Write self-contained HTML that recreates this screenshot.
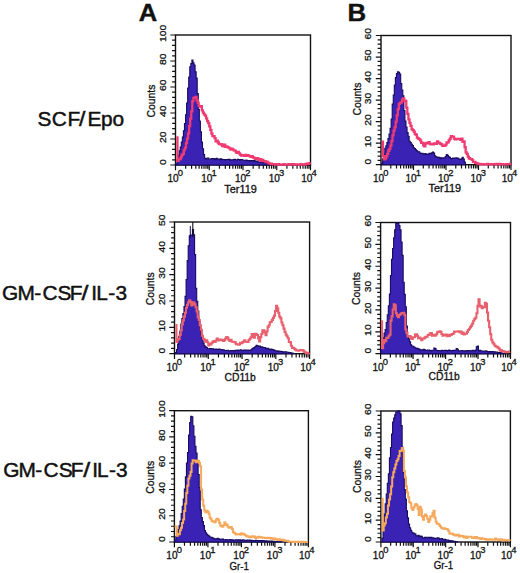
<!DOCTYPE html>
<html><head><meta charset="utf-8"><title>Figure</title><style>
html,body{margin:0;padding:0;background:#fff;width:520px;height:573px;overflow:hidden}
svg{display:block}
text{font-family:"Liberation Sans", sans-serif;fill:#111}
.yl,.cnt,.xl,.xt{stroke:#111;stroke-width:0.3px}
.yl{font-size:10.4px;text-anchor:middle}
.cnt{font-size:10.4px;text-anchor:middle}
.xl{font-size:10px;text-anchor:middle}
.sup{font-size:9.4px}
.xt{font-size:10px;text-anchor:middle}
.big{font-size:24.6px;font-weight:bold;stroke:#111;stroke-width:0.4px}
.row{font-size:19.5px;stroke:#111;stroke-width:0.45px}
</style></head><body>
<svg width="520" height="573" viewBox="0 0 520 573">
<rect width="520" height="573" fill="#fff"/>
<text transform="matrix(1.04 0 0 1 138.8 20.7)" class="big">A</text>
<text transform="matrix(1.05 0 0 1 347.4 20.7)" class="big">B</text>
<text transform="matrix(1.07 0 0 1 0 126.1)" x="35 48.36 62.98 73.83 81.86 94.35 105.26" class="row">SCF<tspan style="fill:none;stroke:none">/</tspan>Epo</text>
<text transform="matrix(1.18 0 0 1 79 126.1)" class="row" aria-hidden="true">/</text>
<text transform="matrix(1.07 0 0 1 0 299.9)" x="1.92 16.34 32.12 39.66 53.79 65.13 76.26 85.21 89.9 101.19 107.86" class="row">GM-CSF<tspan style="fill:none;stroke:none">/</tspan>IL-3</text>
<text transform="matrix(1.28 0 0 1 81.6 299.9)" class="row" aria-hidden="true">/</text>
<text transform="matrix(1.07 0 0 1 0 477.4)" x="3.04 17.28 33.06 40.6 54.91 66.25 77.76 86.24 90.74 101.94 108.51" class="row">GM-CSF<tspan style="fill:none;stroke:none">/</tspan>IL-3</text>
<text transform="matrix(1.28 0 0 1 83.2 477.4)" class="row" aria-hidden="true">/</text>
<g>
<rect x="175.5" y="35" width="135" height="130" fill="none" stroke="#111" stroke-width="1.4"/>
<path d="M170.3 165H175.5 M172.1 159.8H175.5 M172.1 154.6H175.5 M172.1 149.4H175.5 M172.1 144.2H175.5 M170.3 139H175.5 M172.1 133.8H175.5 M172.1 128.6H175.5 M172.1 123.4H175.5 M172.1 118.2H175.5 M170.3 113H175.5 M172.1 107.8H175.5 M172.1 102.6H175.5 M172.1 97.4H175.5 M172.1 92.2H175.5 M170.3 87H175.5 M172.1 81.8H175.5 M172.1 76.6H175.5 M172.1 71.4H175.5 M172.1 66.2H175.5 M170.3 61H175.5 M172.1 55.8H175.5 M172.1 50.6H175.5 M172.1 45.4H175.5 M172.1 40.2H175.5 M170.3 35H175.5 M175.5 165V170.2 M185.66 165V168.8 M191.6 165V168.8 M195.82 165V168.8 M199.09 165V168.8 M201.76 165V168.8 M204.02 165V168.8 M205.98 165V168.8 M207.71 165V168.8 M209.25 165V170.2 M219.41 165V168.8 M225.35 165V168.8 M229.57 165V168.8 M232.84 165V168.8 M235.51 165V168.8 M237.77 165V168.8 M239.73 165V168.8 M241.46 165V168.8 M243 165V170.2 M253.16 165V168.8 M259.1 165V168.8 M263.32 165V168.8 M266.59 165V168.8 M269.26 165V168.8 M271.52 165V168.8 M273.48 165V168.8 M275.21 165V168.8 M276.75 165V170.2 M286.91 165V168.8 M292.85 165V168.8 M297.07 165V168.8 M300.34 165V168.8 M303.01 165V168.8 M305.27 165V168.8 M307.23 165V168.8 M308.96 165V168.8 M310.5 165V170.2" stroke="#111" stroke-width="1.2" fill="none"/>
<text transform="translate(165.7 162) rotate(-90) scale(1 0.9)" class="yl">0</text>
<text transform="translate(165.7 137.3) rotate(-90) scale(1 0.9)" class="yl">20</text>
<text transform="translate(165.7 111.3) rotate(-90) scale(1 0.9)" class="yl">40</text>
<text transform="translate(165.7 85.3) rotate(-90) scale(1 0.9)" class="yl">60</text>
<text transform="translate(165.7 59.3) rotate(-90) scale(1 0.9)" class="yl">80</text>
<text transform="translate(165.7 33.3) rotate(-90) scale(1 0.9)" class="yl">100</text>
<text transform="translate(155.2 101) rotate(-90)" class="cnt">Counts</text>
<text x="175.2" y="182.4" class="xl">10<tspan class="sup" dx="-0.8" dy="-6.1">0</tspan></text>
<text x="208.95" y="182.4" class="xl">10<tspan class="sup" dx="-0.8" dy="-6.1">1</tspan></text>
<text x="242.7" y="182.4" class="xl">10<tspan class="sup" dx="-0.8" dy="-6.1">2</tspan></text>
<text x="276.45" y="182.4" class="xl">10<tspan class="sup" dx="-0.8" dy="-6.1">3</tspan></text>
<text x="308.9" y="182.4" class="xl">10<tspan class="sup" dx="-0.8" dy="-6.1">4</tspan></text>
<text transform="matrix(1.09 0 0 1 240.55 192.6)" class="xt">Ter119</text>
<path d="M176 165V163.77H177.06V160.09H178.12V155.41H179.18V150.72H180.24V147.03H181.3V142.12H182.36V137.1H183.42V130.8H184.48V123.43H185.54V114.7H186.6V103.04H187.66V88.09H188.72V77.17H189.78V66.7H190.84V63.53H191.9V60.06H192.96V62.92H194.02V65.08H195.08V71.85H196.14V78.15H197.2V93.62H198.26V109.42H199.32V120.98H200.38V131.78H201.44V141.97H202.5V148.68H203.56V154.53H204.62V158.35H205.68V158.97H206.74V158.2H207.8V158.13H208.86V159.19H209.92V159.25H210.98V158.66H212.04V158.54H213.1V158.45H214.16V159.61H215.22V158.85H216.28V158.31H217.34V159.19H218.4V159.08H219.46V159.74H220.52V158.86H221.58V159.33H222.64V159.45H223.7V159.43H224.76V159.97H225.82V159.46H226.88V159.47H227.94V159.2H229V159.41H230.06V160.29H231.12V159.91H232.18V160.2H233.24V159.45H234.3V159.31H235.36V159.74H236.42V159.9H237.48V159.38H238.54V159.52H239.6V160.21H240.66V159.43H241.72V159.45H242.78V160.3H243.84V160.32H244.9V160.49H245.96V160.02H247.02V161.02H248.08V160.5H249.14V161.02H250.2V160.52H251.26V161.27H252.32V160.57H253.38V160.6H254.44V160.88H255.5V161.44H256.56V161.05H257.62V161.81H258.68V162.13H259.74V162.29H260.8V162.49H261.86V162.54H262.92V162.58H263.98V162.81H265.04V162.91H266.1V163.4H267.16V163.72H268.22V163.96H269.28V164.79H270V165Z" fill="#3a22b4" stroke="#170c5e" stroke-width="1.1" stroke-linejoin="miter"/>
<path d="M176.4 137.33H177.46V160.93H178.52V159.46H179.58V159.14H180.64V157.28H181.7V154.99H182.76V153.96H183.82V150.07H184.88V147.84H185.94V143.05H187V138.54H188.06V133.47H189.12V126.14H190.18V118.55H191.24V111.36H192.3V101.26H193.36V97.83H194.42V97.56H195.48V96.89H196.54V100.11H197.6V102.68H198.66V105.78H199.72V106.52H200.78V106.21H201.84V110.4H202.9V112.59H203.96V114.42H205.02V115.59H206.08V118.35H207.14V121.21H208.2V123.16H209.26V126.34H210.32V129.93H211.38V133.58H212.44V136.2H213.5V136.05H214.56V138.2H215.62V141.47H216.68V140.68H217.74V142.51H218.8V143.84H219.86V144.31H220.92V144.03H221.98V145.96H223.04V146.24H224.1V144.76H225.16V146.95H226.22V146.43H227.28V147.08H228.34V147.66H229.4V148.35H230.46V149.55H231.52V148.75H232.58V149.56H233.64V150.34H234.7V150.6H235.76V152.43H236.82V152.86H237.88V151.83H238.94V153.36H240V154.66H241.06V155.54H242.12V155.5H243.18V155.24H244.24V155.93H245.3V155.01H246.36V155.82H247.42V155.27H248.48V155.9H249.54V156.19H250.6V156.78H251.66V156.07H252.72V157.32H253.78V157.78H254.84V158.93H255.9V158.89H256.96V158.2H258.02V159.02H259.08V160.03H260.14V159.24H261.2V160.9H262.26V159.87H263.32V161.11H264.38V161.19H265.44V162.01H266.5V161.72H267.56V162.65H268.62V163.35H269.68V163.59H270.74V163.77H271.8V164.11H272.86V164.04H273.92V164.13H274.98V164.61H276.04V164.15H277.1V164.67H278.16V164.26H279.22V164.55H280.28V164.54H281.34V164.66H282.4V164.56H283.46V164.11H284.52V164.55H285.58V164.67H286.64V164.57H287.7V164.41H288.76V164.14H289.82V164.12H290.88V164.25H291.94V164.53H293V164.2H294.06V164.44H295.12V164.55H296.18V164.44H297.24V164.53H298.3V164.57H299.36V164.53H300.42V164.11H301.48V164.49H302.54V164.44H303.6V164.59H304.66V164.23H305.72V163.97H306.78V163.73H307.84V163.86H308.9V163.11H309.96V163.04H310.5" fill="none" stroke="#ef3a72" stroke-width="2.3" stroke-linejoin="miter"/>
</g>
<g>
<rect x="381" y="35.5" width="130" height="129.2" fill="none" stroke="#111" stroke-width="1.4"/>
<path d="M375.8 164.7H381 M377.6 160.39H381 M377.6 156.09H381 M377.6 151.78H381 M377.6 147.47H381 M375.8 143.17H381 M377.6 138.86H381 M377.6 134.55H381 M377.6 130.25H381 M377.6 125.94H381 M375.8 121.63H381 M377.6 117.33H381 M377.6 113.02H381 M377.6 108.71H381 M377.6 104.41H381 M375.8 100.1H381 M377.6 95.79H381 M377.6 91.49H381 M377.6 87.18H381 M377.6 82.87H381 M375.8 78.57H381 M377.6 74.26H381 M377.6 69.95H381 M377.6 65.65H381 M377.6 61.34H381 M375.8 57.03H381 M377.6 52.73H381 M377.6 48.42H381 M377.6 44.11H381 M377.6 39.81H381 M375.8 35.5H381 M381 164.7V169.9 M390.78 164.7V168.5 M396.51 164.7V168.5 M400.57 164.7V168.5 M403.72 164.7V168.5 M406.29 164.7V168.5 M408.47 164.7V168.5 M410.35 164.7V168.5 M412.01 164.7V168.5 M413.5 164.7V169.9 M423.28 164.7V168.5 M429.01 164.7V168.5 M433.07 164.7V168.5 M436.22 164.7V168.5 M438.79 164.7V168.5 M440.97 164.7V168.5 M442.85 164.7V168.5 M444.51 164.7V168.5 M446 164.7V169.9 M455.78 164.7V168.5 M461.51 164.7V168.5 M465.57 164.7V168.5 M468.72 164.7V168.5 M471.29 164.7V168.5 M473.47 164.7V168.5 M475.35 164.7V168.5 M477.01 164.7V168.5 M478.5 164.7V169.9 M488.28 164.7V168.5 M494.01 164.7V168.5 M498.07 164.7V168.5 M501.22 164.7V168.5 M503.79 164.7V168.5 M505.97 164.7V168.5 M507.85 164.7V168.5 M509.51 164.7V168.5 M511 164.7V169.9" stroke="#111" stroke-width="1.2" fill="none"/>
<text transform="translate(371.2 161.7) rotate(-90) scale(1 0.9)" class="yl">0</text>
<text transform="translate(371.2 141.47) rotate(-90) scale(1 0.9)" class="yl">10</text>
<text transform="translate(371.2 119.93) rotate(-90) scale(1 0.9)" class="yl">20</text>
<text transform="translate(371.2 98.4) rotate(-90) scale(1 0.9)" class="yl">30</text>
<text transform="translate(371.2 76.87) rotate(-90) scale(1 0.9)" class="yl">40</text>
<text transform="translate(371.2 55.33) rotate(-90) scale(1 0.9)" class="yl">50</text>
<text transform="translate(371.2 33.8) rotate(-90) scale(1 0.9)" class="yl">60</text>
<text transform="translate(360.7 99.1) rotate(-90)" class="cnt">Counts</text>
<text x="380.7" y="182.1" class="xl">10<tspan class="sup" dx="-0.8" dy="-6.1">0</tspan></text>
<text x="413.2" y="182.1" class="xl">10<tspan class="sup" dx="-0.8" dy="-6.1">1</tspan></text>
<text x="445.7" y="182.1" class="xl">10<tspan class="sup" dx="-0.8" dy="-6.1">2</tspan></text>
<text x="478.2" y="182.1" class="xl">10<tspan class="sup" dx="-0.8" dy="-6.1">3</tspan></text>
<text x="509.4" y="182.1" class="xl">10<tspan class="sup" dx="-0.8" dy="-6.1">4</tspan></text>
<text transform="matrix(1.09 0 0 1 444.75 191.6)" class="xt">Ter119</text>
<path d="M381.6 164.7V163.4H382.66V158.74H383.72V154.08H384.78V148.3H385.84V145.8H386.9V142.44H387.96V138.51H389.02V133.96H390.08V128.29H391.14V118.96H392.2V104.16H393.26V95.08H394.32V85.06H395.38V77.57H396.44V73.44H397.5V71.87H398.56V72.25H399.62V74.14H400.68V83.49H401.74V90.01H402.8V95.71H403.86V110.51H404.92V120.98H405.98V127.17H407.04V132.64H408.1V136.21H409.16V141.19H410.22V142.52H411.28V144.38H412.34V145.64H413.4V147.76H414.46V148.49H415.52V149.87H416.58V150.77H417.64V151.69H418.7V151.8H419.76V153H420.82V153.42H421.88V153.18H422.94V153.88H424V154.27H425.06V153.53H426.12V154.48H427.18V154.24H428.24V153.81H429.3V153.35H430.36V153.79H431.42V152.88H432.48V151.95H433.54V153.1H434.6V155.85H435.66V156.87H436.72V156.95H437.78V157.44H438.84V157.39H439.9V158.65H440.96V157.78H442.02V158.24H443.08V157.77H444.14V158.04H445.2V156.48H446.26V154.65H447.32V155.41H448.38V156.85H449.44V157.33H450.5V158.46H451.56V158.8H452.62V157.94H453.68V157.97H454.74V158.24H455.8V157.77H456.86V157.93H457.92V158.27H458.98V159.18H460.04V159.47H461.1V158.74H462.16V157.31H463.22V159.14H464.28V162.06H465.34V164.01H465.7V164.7Z" fill="#3a22b4" stroke="#170c5e" stroke-width="1.1" stroke-linejoin="miter"/>
<path d="M381.9 141.73H382.96V156.13H384.02V159.32H385.08V158.67H386.14V156.24H387.2V153.95H388.26V150.74H389.32V148.8H390.38V145.54H391.44V141.16H392.5V135.47H393.56V130.57H394.62V127.12H395.68V121.56H396.74V115.23H397.8V109.22H398.86V103.91H399.92V102.88H400.98V102.24H402.04V99.47H403.1V98.48H404.16V100.58H405.22V100.97H406.28V107.64H407.34V113.96H408.4V119.42H409.46V122.93H410.52V125.87H411.58V129.26H412.64V130.07H413.7V131.56H414.76V134.13H415.82V134.56H416.88V137.66H417.94V138.52H419V139.12H420.06V140.37H421.12V142.77H422.18V142.92H423.24V145.37H424.3V146.37H425.36V143.48H426.42V142.92H427.48V143.13H428.54V142.14H429.6V143.83H430.66V144.23H431.72V144.33H432.78V144.4H433.84V143.5H434.9V143.92H435.96V143.77H437.02V141.47H438.08V142.71H439.14V142.9H440.2V143.89H441.26V144.36H442.32V145.85H443.38V145.88H444.44V145.63H445.5V144.55H446.56V142.49H447.62V142.32H448.68V140.45H449.74V138.6H450.8V136.25H451.86V136.58H452.92V136.58H453.98V138.6H455.04V139.27H456.1V138.96H457.16V138.81H458.22V139.14H459.28V138.89H460.34V139.8H461.4V138.75H462.46V141.85H463.52V141.52H464.58V147.24H465.64V152.29H466.7V153.83H467.76V156.71H468.82V158.25H469.88V158.86H470.94V159.12H472V159.91H473.06V161.97H474.12V161.91H475.18V162.75H476.24V163.08H477.3V163.66H478.36V163.79H479.42V163.93H480.48V164.29H481.54V164.3H482.6V164.26H483.66V164.38H484.72V164.45H485.78V164.39H486.84V163.97H487.9V164.21H488.96V164.29H490.02V164.41H491.08V164.22H492.14V164.17H493.2V164.09H494.26V164.05H495.32V164.38H496.38V163.94H497.44V164.33H498.5V164.45H499.56V163.96H500.62V164.03H501.68V164.08H502.74V164.37H503.8V164.37H504.86V164.42H505.92V164.26H506.98V164.21H508.04V164.19H509.1V164.21H510.16V163.56H511" fill="none" stroke="#ef3a72" stroke-width="2.3" stroke-linejoin="miter"/>
</g>
<g>
<rect x="174.5" y="222" width="135.1" height="131.7" fill="none" stroke="#111" stroke-width="1.4"/>
<path d="M169.3 353.7H174.5 M171.1 348.43H174.5 M171.1 343.16H174.5 M171.1 337.9H174.5 M171.1 332.63H174.5 M169.3 327.36H174.5 M171.1 322.09H174.5 M171.1 316.82H174.5 M171.1 311.56H174.5 M171.1 306.29H174.5 M169.3 301.02H174.5 M171.1 295.75H174.5 M171.1 290.48H174.5 M171.1 285.22H174.5 M171.1 279.95H174.5 M169.3 274.68H174.5 M171.1 269.41H174.5 M171.1 264.14H174.5 M171.1 258.88H174.5 M171.1 253.61H174.5 M169.3 248.34H174.5 M171.1 243.07H174.5 M171.1 237.8H174.5 M171.1 232.54H174.5 M171.1 227.27H174.5 M169.3 222H174.5 M174.5 353.7V358.9 M184.67 353.7V357.5 M190.61 353.7V357.5 M194.83 353.7V357.5 M198.11 353.7V357.5 M200.78 353.7V357.5 M203.04 353.7V357.5 M205 353.7V357.5 M206.73 353.7V357.5 M208.28 353.7V358.9 M218.44 353.7V357.5 M224.39 353.7V357.5 M228.61 353.7V357.5 M231.88 353.7V357.5 M234.56 353.7V357.5 M236.82 353.7V357.5 M238.78 353.7V357.5 M240.5 353.7V357.5 M242.05 353.7V358.9 M252.22 353.7V357.5 M258.16 353.7V357.5 M262.38 353.7V357.5 M265.66 353.7V357.5 M268.33 353.7V357.5 M270.59 353.7V357.5 M272.55 353.7V357.5 M274.28 353.7V357.5 M275.83 353.7V358.9 M285.99 353.7V357.5 M291.94 353.7V357.5 M296.16 353.7V357.5 M299.43 353.7V357.5 M302.11 353.7V357.5 M304.37 353.7V357.5 M306.33 353.7V357.5 M308.05 353.7V357.5 M309.6 353.7V358.9" stroke="#111" stroke-width="1.2" fill="none"/>
<text transform="translate(164.7 350.7) rotate(-90) scale(1 0.9)" class="yl">0</text>
<text transform="translate(164.7 325.66) rotate(-90) scale(1 0.9)" class="yl">10</text>
<text transform="translate(164.7 299.32) rotate(-90) scale(1 0.9)" class="yl">20</text>
<text transform="translate(164.7 272.98) rotate(-90) scale(1 0.9)" class="yl">30</text>
<text transform="translate(164.7 246.64) rotate(-90) scale(1 0.9)" class="yl">40</text>
<text transform="translate(164.7 220.3) rotate(-90) scale(1 0.9)" class="yl">50</text>
<text transform="translate(154.2 288.85) rotate(-90)" class="cnt">Counts</text>
<text x="174.2" y="371.1" class="xl">10<tspan class="sup" dx="-0.8" dy="-6.1">0</tspan></text>
<text x="207.97" y="371.1" class="xl">10<tspan class="sup" dx="-0.8" dy="-6.1">1</tspan></text>
<text x="241.75" y="371.1" class="xl">10<tspan class="sup" dx="-0.8" dy="-6.1">2</tspan></text>
<text x="275.53" y="371.1" class="xl">10<tspan class="sup" dx="-0.8" dy="-6.1">3</tspan></text>
<text x="308" y="371.1" class="xl">10<tspan class="sup" dx="-0.8" dy="-6.1">4</tspan></text>
<text transform="matrix(1.03 0 0 1 240.15 381.2)" class="xt">CD11b</text>
<path d="M175.5 353.7V352.49H176.56V349.57H177.62V344.1H178.68V336.63H179.74V331.33H180.8V323.99H181.86V318.6H182.92V313.46H183.98V306.59H185.04V296.41H186.1V279.51H187.16V260.64H188.22V245.82H189.28V235.7H190.34V235.03H191.4V235.27H192.46V229.6H193.52V234.89H194.58V254.5H195.64V288.39H196.7V301.26H197.76V311.01H198.82V321.25H199.88V329.32H200.94V334.79H202V338.94H203.06V343.13H204.12V345.89H205.18V346.91H206.24V347.48H207.3V348.75H208.36V348.72H209.42V348.66H210.48V348.59H211.54V348.77H212.6V348.71H213.66V349.33H214.72V349.43H215.78V349.1H216.84V349.42H217.9V349.55H218.96V348.96H220.02V349.47H221.08V349.47H222.14V349.68H223.2V349.85H224.26V350.53H225.32V350.49H226.38V350.24H227.44V350.19H228.5V351.01H229.56V350.88H230.62V350.53H231.68V350.67H232.74V350.47H233.8V351.14H234.86V350.39H235.92V350.53H236.98V350.02H238.04V350.73H239.1V350.3H240.16V349.75H241.22V350.24H242.28V350.45H243.34V350.07H244.4V350.15H245.46V350.53H246.52V350.02H247.58V350.16H248.64V350.48H249.7V350.26H250.76V349.86H251.82V348.75H252.88V348.16H253.94V347.46H255V346.53H256.06V345.4H257.12V345.81H258.18V346.42H259.24V346.11H260.3V347.28H261.36V346.88H262.42V347.19H263.48V347.44H264.54V347.63H265.6V348.66H266.66V348.36H267.72V348.29H268.78V349.37H269.84V349.61H270.9V349.11H271.96V349.48H273.02V349.68H274.08V350.41H275.14V350.81H276.2V350.75H277.26V351.36H278.32V350.95H279.38V351.22H280.44V351.41H281.5V351.54H282.56V351.75H283.62V351.88H284.68V351.76H285.74V351.82H286.8V352.18H287.86V352.32H288.92V352.5H289.98V352.44H291.04V353.11H292.1V353.11H293.16V353.48H294.2V353.7Z" fill="#3a22b4" stroke="#170c5e" stroke-width="1.1" stroke-linejoin="miter"/>
<path d="M175.4 325.03H176.46V342.02H177.52V339.83H178.58V339.04H179.64V335.02H180.7V330.48H181.76V324.42H182.82V320.41H183.88V316.65H184.94V312.75H186V307.8H187.06V304.89H188.12V302.37H189.18V300.24H190.24V301.89H191.3V305.35H192.36V302.21H193.42V302.54H194.48V304.4H195.54V307.27H196.6V311.38H197.66V317.11H198.72V320.01H199.78V325.29H200.84V329.73H201.9V335.82H202.96V338.79H204.02V339.62H205.08V341.69H206.14V340.2H207.2V342.27H208.26V345.46H209.32V343.71H210.38V344.43H211.44V343.05H212.5V341.59H213.56V341.08H214.62V341.85H215.68V340.54H216.74V338.61H217.8V340.42H218.86V339.57H219.92V339.55H220.98V340.31H222.04V339.86H223.1V340.97H224.16V340.2H225.22V338.45H226.28V337.16H227.34V337.84H228.4V339.83H229.46V341.02H230.52V339.68H231.58V341.68H232.64V341.8H233.7V341.96H234.76V342.35H235.82V344.13H236.88V344.32H237.94V344.81H239V344.56H240.06V342.82H241.12V343.26H242.18V342.41H243.24V341.67H244.3V340.39H245.36V341.78H246.42V341.76H247.48V342.02H248.54V340.06H249.6V338.81H250.66V337.31H251.72V334.08H252.78V333.93H253.84V337.66H254.9V333.69H255.96V334.31H257.02V334.93H258.08V338.29H259.14V341.36H260.2V337.15H261.26V333.94H262.32V330.28H263.38V330.42H264.44V332.52H265.5V335.32H266.56V331.44H267.62V326.91H268.68V325.18H269.74V322.3H270.8V321.7H271.86V319.88H272.92V317.86H273.98V315.66H275.04V310.96H276.1V305.81H277.16V308.36H278.22V312.77H279.28V316.62H280.34V318.4H281.4V322.45H282.46V325.26H283.52V328.67H284.58V331.83H285.64V334.61H286.7V336.31H287.76V338.27H288.82V342.06H289.88V342.23H290.94V345.79H292V347.95H293.06V347.74H294.12V348.73H295.18V349.65H296.24V350.55H297.3V350.55H298.36V350.7H299.42V350.25H300.48V350.13H301.54V350.08H302.6V350.41H303.66V351.66H304.72V352.28H305.78V353.14H306.84V352.88H307.9V353.51H308.96V353.43H309.6" fill="none" stroke="#e8606e" stroke-width="2.1" stroke-linejoin="miter"/>
<path d="M192.8 222V237" stroke="#111" stroke-width="1.1"/>
<path d="M190.3 226V238" stroke="#170c5e" stroke-width="1"/>
</g>
<g>
<rect x="380.6" y="222.5" width="129.9" height="131.2" fill="none" stroke="#111" stroke-width="1.4"/>
<path d="M375.4 353.7H380.6 M377.2 349.33H380.6 M377.2 344.95H380.6 M377.2 340.58H380.6 M377.2 336.21H380.6 M375.4 331.83H380.6 M377.2 327.46H380.6 M377.2 323.09H380.6 M377.2 318.71H380.6 M377.2 314.34H380.6 M375.4 309.97H380.6 M377.2 305.59H380.6 M377.2 301.22H380.6 M377.2 296.85H380.6 M377.2 292.47H380.6 M375.4 288.1H380.6 M377.2 283.73H380.6 M377.2 279.35H380.6 M377.2 274.98H380.6 M377.2 270.61H380.6 M375.4 266.23H380.6 M377.2 261.86H380.6 M377.2 257.49H380.6 M377.2 253.11H380.6 M377.2 248.74H380.6 M375.4 244.37H380.6 M377.2 239.99H380.6 M377.2 235.62H380.6 M377.2 231.25H380.6 M377.2 226.87H380.6 M375.4 222.5H380.6 M380.6 353.7V358.9 M390.38 353.7V357.5 M396.09 353.7V357.5 M400.15 353.7V357.5 M403.3 353.7V357.5 M405.87 353.7V357.5 M408.04 353.7V357.5 M409.93 353.7V357.5 M411.59 353.7V357.5 M413.08 353.7V358.9 M422.85 353.7V357.5 M428.57 353.7V357.5 M432.63 353.7V357.5 M435.77 353.7V357.5 M438.35 353.7V357.5 M440.52 353.7V357.5 M442.4 353.7V357.5 M444.06 353.7V357.5 M445.55 353.7V358.9 M455.33 353.7V357.5 M461.04 353.7V357.5 M465.1 353.7V357.5 M468.25 353.7V357.5 M470.82 353.7V357.5 M472.99 353.7V357.5 M474.88 353.7V357.5 M476.54 353.7V357.5 M478.02 353.7V358.9 M487.8 353.7V357.5 M493.52 353.7V357.5 M497.58 353.7V357.5 M500.72 353.7V357.5 M503.3 353.7V357.5 M505.47 353.7V357.5 M507.35 353.7V357.5 M509.01 353.7V357.5 M510.5 353.7V358.9" stroke="#111" stroke-width="1.2" fill="none"/>
<text transform="translate(370.8 350.7) rotate(-90) scale(1 0.9)" class="yl">0</text>
<text transform="translate(370.8 330.13) rotate(-90) scale(1 0.9)" class="yl">10</text>
<text transform="translate(370.8 308.27) rotate(-90) scale(1 0.9)" class="yl">20</text>
<text transform="translate(370.8 286.4) rotate(-90) scale(1 0.9)" class="yl">30</text>
<text transform="translate(370.8 264.53) rotate(-90) scale(1 0.9)" class="yl">40</text>
<text transform="translate(370.8 242.67) rotate(-90) scale(1 0.9)" class="yl">50</text>
<text transform="translate(370.8 220.8) rotate(-90) scale(1 0.9)" class="yl">60</text>
<text transform="translate(360.3 288.5) rotate(-90)" class="cnt">Counts</text>
<text x="380.3" y="371.1" class="xl">10<tspan class="sup" dx="-0.8" dy="-6.1">0</tspan></text>
<text x="412.78" y="371.1" class="xl">10<tspan class="sup" dx="-0.8" dy="-6.1">1</tspan></text>
<text x="445.25" y="371.1" class="xl">10<tspan class="sup" dx="-0.8" dy="-6.1">2</tspan></text>
<text x="477.72" y="371.1" class="xl">10<tspan class="sup" dx="-0.8" dy="-6.1">3</tspan></text>
<text x="508.9" y="371.1" class="xl">10<tspan class="sup" dx="-0.8" dy="-6.1">4</tspan></text>
<text transform="matrix(1.03 0 0 1 444.15 380.3)" class="xt">CD11b</text>
<path d="M380.9 353.7V346.67H381.96V341.89H383.02V337.75H384.08V333.12H385.14V329.62H386.2V322.54H387.26V314.8H388.32V305.77H389.38V293.97H390.44V275.43H391.5V259.25H392.56V248.57H393.62V237.73H394.68V229.83H395.74V223.3H396.8V223.36H397.86V222.61H398.92V225.44H399.98V229.91H401.04V241.94H402.1V255.38H403.16V282.3H404.22V294.34H405.28V306.75H406.34V326.06H407.4V336.03H408.46V338.79H409.52V341.69H410.58V344.74H411.64V345.98H412.7V346.18H413.76V347.02H414.82V347.75H415.88V348.26H416.94V348.4H418V348.76H419.06V349.34H420.12V349.92H421.18V349.82H422.24V350.19H423.3V349.36H424.36V349.77H425.42V350.45H426.48V350.21H427.54V350.02H428.6V350.01H429.66V350.62H430.72V350.68H431.78V350.25H432.84V350.27H433.9V347.98H434.96V348.53H436.02V350.26H437.08V350.65H438.14V350.52H439.2V350.81H440.26V350.83H441.32V350.29H442.38V350.53H443.44V350.46H444.5V350.25H445.56V350.39H446.62V351H447.68V350.43H448.74V350.16H449.8V350.45H450.86V350.6H451.92V350.76H452.98V350.29H454.04V350.54H455.1V350.18H456.16V348.62H457.22V349.21H458.28V350.8H459.34V350.92H460.4V350.76H461.46V350.56H462.52V350.8H463.58V350.71H464.64V350.85H465.7V351.12H466.76V350.61H467.82V350.6H468.88V350.59H469.94V350.73H471V350.95H472.06V350.4H473.12V350.47H474.18V350.83H475.24V350H476.3V346.7H477.36V346.08H478.42V350.85H479.48V350.34H480.54V350.69H481.6V351.06H482.66V350.99H483.72V351.12H484.78V351.27H485.84V350.88H486.9V351.47H487.96V351.59H489.02V351.93H490.08V351.63H491.14V351.8H492.2V351.6H493.26V351.95H494.32V351.85H495.38V352.29H496.44V352.16H497.5V352.63H498.56V352.44H499.62V352.55H500.68V352.88H501.74V353.27H502.8V353.33H503.86V353.66H504.92V353.7H505V353.7Z" fill="#3a22b4" stroke="#170c5e" stroke-width="1.1" stroke-linejoin="miter"/>
<path d="M381 321.34H382.06V348.31H383.12V343.11H384.18V340.14H385.24V341.11H386.3V337.77H387.36V338.06H388.42V336.25H389.48V334.64H390.54V320.67H391.6V316.38H392.66V309.44H393.72V304.24H394.78V305.24H395.84V313.32H396.9V315.85H397.96V317.28H399.02V315.04H400.08V314.25H401.14V313.21H402.2V313.04H403.26V312.91H404.32V315.09H405.38V329.49H406.44V332.9H407.5V336.44H408.56V336.18H409.62V336.13H410.68V338.35H411.74V338.88H412.8V337.23H413.86V337.32H414.92V334.53H415.98V334.2H417.04V335.87H418.1V338.18H419.16V337.59H420.22V338.49H421.28V340.14H422.34V338.82H423.4V338.49H424.46V337.59H425.52V336.88H426.58V336.71H427.64V334.95H428.7V334.72H429.76V333.25H430.82V332.97H431.88V335.62H432.94V334.68H434V335.78H435.06V335.46H436.12V334.2H437.18V332.16H438.24V331.83H439.3V331.25H440.36V331.74H441.42V334.06H442.48V335.68H443.54V335.17H444.6V334.79H445.66V334.53H446.72V336.16H447.78V334.82H448.84V335.96H449.9V334.87H450.96V334.59H452.02V334.03H453.08V333.43H454.14V331.64H455.2V331.46H456.26V331.53H457.32V331.46H458.38V331.24H459.44V332.26H460.5V331.46H461.56V333.58H462.62V332.62H463.68V334.51H464.74V333.77H465.8V333.81H466.86V331.88H467.92V330H468.98V328.79H470.04V327.12H471.1V325.6H472.16V323.49H473.22V320.74H474.28V318.89H475.34V317.77H476.4V313.31H477.46V305.85H478.52V299.3H479.58V306.4H480.64V305.92H481.7V308.26H482.76V307.06H483.82V307.18H484.88V302.74H485.94V303.9H487V312.65H488.06V320.78H489.12V327.29H490.18V334.16H491.24V339.69H492.3V342.34H493.36V343.7H494.42V345.43H495.48V346.38H496.54V346.82H497.6V347.66H498.66V348.52H499.72V350.78H500.78V350.05H501.84V351H502.9V351.37H503.96V351.29H505.02V352.06H506.08V352.32H507.14V352.18H508.2V351.79H509.26V351.52H510" fill="none" stroke="#e8606e" stroke-width="2.1" stroke-linejoin="miter"/>
</g>
<g>
<rect x="174.4" y="410.7" width="134" height="131.3" fill="none" stroke="#111" stroke-width="1.4"/>
<path d="M169.2 542H174.4 M171 536.75H174.4 M171 531.5H174.4 M171 526.24H174.4 M171 520.99H174.4 M169.2 515.74H174.4 M171 510.49H174.4 M171 505.24H174.4 M171 499.98H174.4 M171 494.73H174.4 M169.2 489.48H174.4 M171 484.23H174.4 M171 478.98H174.4 M171 473.72H174.4 M171 468.47H174.4 M169.2 463.22H174.4 M171 457.97H174.4 M171 452.72H174.4 M171 447.46H174.4 M171 442.21H174.4 M169.2 436.96H174.4 M171 431.71H174.4 M171 426.46H174.4 M171 421.2H174.4 M171 415.95H174.4 M169.2 410.7H174.4 M174.4 542V547.2 M184.48 542V545.8 M190.38 542V545.8 M194.57 542V545.8 M197.82 542V545.8 M200.47 542V545.8 M202.71 542V545.8 M204.65 542V545.8 M206.37 542V545.8 M207.9 542V547.2 M217.98 542V545.8 M223.88 542V545.8 M228.07 542V545.8 M231.32 542V545.8 M233.97 542V545.8 M236.21 542V545.8 M238.15 542V545.8 M239.87 542V545.8 M241.4 542V547.2 M251.48 542V545.8 M257.38 542V545.8 M261.57 542V545.8 M264.82 542V545.8 M267.47 542V545.8 M269.71 542V545.8 M271.65 542V545.8 M273.37 542V545.8 M274.9 542V547.2 M284.98 542V545.8 M290.88 542V545.8 M295.07 542V545.8 M298.32 542V545.8 M300.97 542V545.8 M303.21 542V545.8 M305.15 542V545.8 M306.87 542V545.8 M308.4 542V547.2" stroke="#111" stroke-width="1.2" fill="none"/>
<text transform="translate(164.6 539) rotate(-90) scale(1 0.9)" class="yl">0</text>
<text transform="translate(164.6 514.04) rotate(-90) scale(1 0.9)" class="yl">20</text>
<text transform="translate(164.6 487.78) rotate(-90) scale(1 0.9)" class="yl">40</text>
<text transform="translate(164.6 461.52) rotate(-90) scale(1 0.9)" class="yl">60</text>
<text transform="translate(164.6 435.26) rotate(-90) scale(1 0.9)" class="yl">80</text>
<text transform="translate(164.6 409) rotate(-90) scale(1 0.9)" class="yl">100</text>
<text transform="translate(154.1 477.35) rotate(-90)" class="cnt">Counts</text>
<text x="174.1" y="559.4" class="xl">10<tspan class="sup" dx="-0.8" dy="-6.1">0</tspan></text>
<text x="207.6" y="559.4" class="xl">10<tspan class="sup" dx="-0.8" dy="-6.1">1</tspan></text>
<text x="241.1" y="559.4" class="xl">10<tspan class="sup" dx="-0.8" dy="-6.1">2</tspan></text>
<text x="274.6" y="559.4" class="xl">10<tspan class="sup" dx="-0.8" dy="-6.1">3</tspan></text>
<text x="306.8" y="559.4" class="xl">10<tspan class="sup" dx="-0.8" dy="-6.1">4</tspan></text>
<text transform="matrix(0.97 0 0 1 239.25 569.9)" class="xt">Gr-1</text>
<path d="M174.8 542V540.02H175.86V536.53H176.92V533.56H177.98V529.51H179.04V525.91H180.1V521.1H181.16V513.46H182.22V506.32H183.28V499.03H184.34V489.08H185.4V476.9H186.46V463H187.52V452.51H188.58V434.95H189.64V422.47H190.7V416.22H191.76V416.91H192.82V425.69H193.88V436.2H194.94V446.31H196V453.16H197.06V462.08H198.12V474.52H199.18V487.49H200.24V509.83H201.3V517.46H202.36V521.64H203.42V525.61H204.48V530.57H205.54V532.73H206.6V534.33H207.66V535.29H208.72V536.15H209.78V536.94H210.84V537.24H211.9V537.62H212.96V538.2H214.02V538.87H215.08V538.85H216.14V539.16H217.2V538.39H218.26V538.75H219.32V539.39H220.38V539.21H221.44V539.08H222.5V539.12H223.56V539.71H224.62V539.91H225.68V539.66H226.74V539.78H227.8V539.8H228.86V539.85H229.92V539.64H230.98V539.96H232.04V539.86H233.1V540.11H234.16V540.13H235.22V539.69H236.28V539.9H237.34V539.85H238.4V539.68H239.46V539.85H240.52V540.37H241.58V539.96H242.64V539.8H243.7V540.07H244.76V540.22H245.82V540.38H246.88V540.07H247.94V540.3H249V540.07H250.06V540.6H251.12V540.26H252.18V540.52H253.24V540.62H254.3V540.51H255.36V540.37H256.42V540.55H257.48V540.49H258.54V540.6H259.6V540.8H260.66V540.5H261.72V540.55H262.78V540.6H263.84V540.78H264.9V541.05H265.96V540.85H267.02V541.02H268.08V541.33H269.14V541.04H270.2V541.05H271.26V541.11H272.32V541.47H273.38V541.28H274.44V541.47H275.5V541.65H276.56V541.66H277.62V541.74H278.68V541.83H279.74V541.79H280.8V541.97H281.86V542H282V542Z" fill="#3a22b4" stroke="#170c5e" stroke-width="1.1" stroke-linejoin="miter"/>
<path d="M174.6 526.44H175.66V526.53H176.72V535.75H177.78V533.85H178.84V534.26H179.9V530.23H180.96V527.81H182.02V522.96H183.08V519.57H184.14V511.02H185.2V503.84H186.26V492.97H187.32V485.77H188.38V478.51H189.44V475.66H190.5V472.05H191.56V463.39H192.62V460.32H193.68V460.55H194.74V460.69H195.8V462.18H196.86V460.38H197.92V460.78H198.98V462.73H200.04V466.34H201.1V489.59H202.16V499.49H203.22V505.74H204.28V510.54H205.34V512.36H206.4V510.73H207.46V511.39H208.52V513.73H209.58V517.8H210.64V519.18H211.7V521.35H212.76V521.17H213.82V522.36H214.88V521.76H215.94V519.52H217V518.75H218.06V519.77H219.12V522.72H220.18V525.44H221.24V526.26H222.3V526.74H223.36V525.3H224.42V522.57H225.48V525.11H226.54V524.41H227.6V526.86H228.66V527.74H229.72V527.64H230.78V526.93H231.84V529.03H232.9V532.27H233.96V532.63H235.02V533.82H236.08V534.42H237.14V534.29H238.2V534.36H239.26V533.91H240.32V534.74H241.38V533.18H242.44V534.01H243.5V534.11H244.56V535.08H245.62V535.79H246.68V536.48H247.74V536.19H248.8V537.01H249.86V537.13H250.92V536.71H251.98V536.2H253.04V536.79H254.1V536.41H255.16V537.91H256.22V537.14H257.28V537.77H258.34V536.78H259.4V537.06H260.46V537.25H261.52V537.45H262.58V537.7H263.64V537.68H264.7V538.02H265.76V538.1H266.82V537.75H267.88V537.79H268.94V538.32H270V538.07H271.06V538.65H272.12V538.2H273.18V539.01H274.24V538.53H275.3V539.43H276.36V539.18H277.42V540H278.48V539.24H279.54V539.6H280.6V540.02H281.66V539.67H282.72V539.79H283.78V540.21H284.84V540.65H285.9V540.83H286.96V540.76H288.02V541.33H289.08V541.63H290.14V541.86H291.2V541.84H292.26V541.8H293.32V541.99H294.38V541.79H295.44V541.9H296.5V541.91H297.56V541.82H298.62V541.94H299.68V542H300.74V541.97H301.8V541.87H302.86V541.81H303.92V542H304.98V541.9H306.04V541.93H307.1V541.97H308" fill="none" stroke="#f6a95c" stroke-width="2.0" stroke-linejoin="miter"/>
</g>
<g>
<rect x="380.9" y="411" width="129.5" height="131" fill="none" stroke="#111" stroke-width="1.4"/>
<path d="M375.7 542H380.9 M377.5 537.63H380.9 M377.5 533.27H380.9 M377.5 528.9H380.9 M377.5 524.53H380.9 M375.7 520.17H380.9 M377.5 515.8H380.9 M377.5 511.43H380.9 M377.5 507.07H380.9 M377.5 502.7H380.9 M375.7 498.33H380.9 M377.5 493.97H380.9 M377.5 489.6H380.9 M377.5 485.23H380.9 M377.5 480.87H380.9 M375.7 476.5H380.9 M377.5 472.13H380.9 M377.5 467.77H380.9 M377.5 463.4H380.9 M377.5 459.03H380.9 M375.7 454.67H380.9 M377.5 450.3H380.9 M377.5 445.93H380.9 M377.5 441.57H380.9 M377.5 437.2H380.9 M375.7 432.83H380.9 M377.5 428.47H380.9 M377.5 424.1H380.9 M377.5 419.73H380.9 M377.5 415.37H380.9 M375.7 411H380.9 M380.9 542V547.2 M390.65 542V545.8 M396.35 542V545.8 M400.39 542V545.8 M403.53 542V545.8 M406.09 542V545.8 M408.26 542V545.8 M410.14 542V545.8 M411.79 542V545.8 M413.27 542V547.2 M423.02 542V545.8 M428.72 542V545.8 M432.77 542V545.8 M435.9 542V545.8 M438.47 542V545.8 M440.64 542V545.8 M442.51 542V545.8 M444.17 542V545.8 M445.65 542V547.2 M455.4 542V545.8 M461.1 542V545.8 M465.14 542V545.8 M468.28 542V545.8 M470.84 542V545.8 M473.01 542V545.8 M474.89 542V545.8 M476.54 542V545.8 M478.02 542V547.2 M487.77 542V545.8 M493.47 542V545.8 M497.52 542V545.8 M500.65 542V545.8 M503.22 542V545.8 M505.39 542V545.8 M507.26 542V545.8 M508.92 542V545.8 M510.4 542V547.2" stroke="#111" stroke-width="1.2" fill="none"/>
<text transform="translate(371.1 539) rotate(-90) scale(1 0.9)" class="yl">0</text>
<text transform="translate(371.1 518.47) rotate(-90) scale(1 0.9)" class="yl">10</text>
<text transform="translate(371.1 496.63) rotate(-90) scale(1 0.9)" class="yl">20</text>
<text transform="translate(371.1 474.8) rotate(-90) scale(1 0.9)" class="yl">30</text>
<text transform="translate(371.1 452.97) rotate(-90) scale(1 0.9)" class="yl">40</text>
<text transform="translate(371.1 431.13) rotate(-90) scale(1 0.9)" class="yl">50</text>
<text transform="translate(371.1 409.3) rotate(-90) scale(1 0.9)" class="yl">60</text>
<text transform="translate(360.6 476.5) rotate(-90)" class="cnt">Counts</text>
<text x="380.6" y="559.4" class="xl">10<tspan class="sup" dx="-0.8" dy="-6.1">0</tspan></text>
<text x="412.97" y="559.4" class="xl">10<tspan class="sup" dx="-0.8" dy="-6.1">1</tspan></text>
<text x="445.35" y="559.4" class="xl">10<tspan class="sup" dx="-0.8" dy="-6.1">2</tspan></text>
<text x="477.72" y="559.4" class="xl">10<tspan class="sup" dx="-0.8" dy="-6.1">3</tspan></text>
<text x="508.8" y="559.4" class="xl">10<tspan class="sup" dx="-0.8" dy="-6.1">4</tspan></text>
<text transform="matrix(0.97 0 0 1 443.4 569.2)" class="xt">Gr-1</text>
<path d="M382 542V538.33H383.06V525.86H384.12V514.12H385.18V503.91H386.24V494.16H387.3V483.4H388.36V473.82H389.42V457.92H390.48V447.54H391.54V434.07H392.6V421.97H393.66V418.1H394.72V414.74H395.78V412.13H396.84V411.83H397.9V410.91H398.96V411.28H400.02V413.91H401.08V425.66H402.14V447.26H403.2V472.62H404.26V489.5H405.32V498.94H406.38V510.81H407.44V517.87H408.5V523.95H409.56V527.82H410.62V530.38H411.68V532.26H412.74V533.11H413.8V533.27H414.86V534.16H415.92V535.78H416.98V535.9H418.04V535.36H419.1V536.65H420.16V536.13H421.22V536.39H422.28V537.73H423.34V537.88H424.4V537.3H425.46V537.81H426.52V537.2H427.58V537.19H428.64V537.88H429.7V537.37H430.76V537.24H431.82V538.17H432.88V537.87H433.94V538.21H435V538.38H436.06V538.24H437.12V537.77H438.18V537.98H439.24V538.86H440.3V538.74H441.36V538.65H442.42V539.36H443.48V539.66H444.54V539.28H445.6V539.83H446.66V540.32H447.72V539.95H448.78V540.59H449.84V540.59H450.9V541H451.96V540.88H453.02V541.32H454.08V541.42H455.14V541.57H456.2V541.91H457.26V541.91H457.8V542Z" fill="#3a22b4" stroke="#170c5e" stroke-width="1.1" stroke-linejoin="miter"/>
<path d="M381.6 498.7H382.66V530.5H383.72V525.46H384.78V523.18H385.84V517.56H386.9V513.85H387.96V505.44H389.02V499.43H390.08V494.28H391.14V486.43H392.2V477.25H393.26V472.23H394.32V468.5H395.38V464.48H396.44V461.05H397.5V459.35H398.56V455.89H399.62V451.1H400.68V450.73H401.74V448.12H402.8V450.58H403.86V470.98H404.92V477.16H405.98V486.33H407.04V492.61H408.1V497.13H409.16V502.02H410.22V503.37H411.28V508.04H412.34V510.02H413.4V507.51H414.46V505.59H415.52V503.96H416.58V505.26H417.64V508.94H418.7V514.91H419.76V506.68H420.82V509.39H421.88V516.57H422.94V519.78H424V516.11H425.06V514.52H426.12V516.11H427.18V518.81H428.24V522.01H429.3V519.79H430.36V516.34H431.42V516.56H432.48V512.89H433.54V510.86H434.6V517.82H435.66V521.81H436.72V523.68H437.78V523.78H438.84V524.74H439.9V526.19H440.96V527.83H442.02V528.24H443.08V528.73H444.14V528.31H445.2V528.89H446.26V529.03H447.32V529.48H448.38V531.29H449.44V533.86H450.5V533.87H451.56V533.52H452.62V534.37H453.68V535.07H454.74V535.43H455.8V534.7H456.86V535.44H457.92V534.65H458.98V536.41H460.04V535.85H461.1V535.63H462.16V536.08H463.22V537.27H464.28V537.52H465.34V536.49H466.4V537.89H467.46V536.8H468.52V536.69H469.58V536.65H470.64V536.86H471.7V537.75H472.76V537.51H473.82V538.07H474.88V536.93H475.94V537.04H477V538.37H478.06V538.06H479.12V538.31H480.18V538.97H481.24V538.21H482.3V538.49H483.36V538.68H484.42V539.15H485.48V538.97H486.54V539.63H487.6V539.63H488.66V539.6H489.72V539.34H490.78V539.42H491.84V539.69H492.9V539.81H493.96V539.72H495.02V538.39H496.08V539.31H497.14V539.58H498.2V539.93H499.26V539.6H500.32V539.37H501.38V539.74H502.44V540.4H503.5V539.65H504.56V540.16H505.62V540.14H506.68V540.22H507.74V540.12H508.8V540.58H509.86V540.77H510" fill="none" stroke="#f6a95c" stroke-width="2.0" stroke-linejoin="miter"/>
</g>
</svg></body></html>
